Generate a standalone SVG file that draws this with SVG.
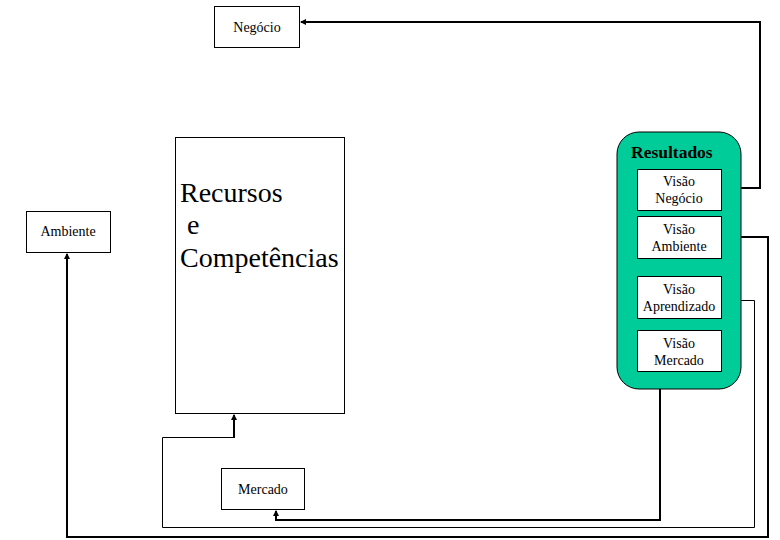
<svg xmlns="http://www.w3.org/2000/svg" width="780" height="540" viewBox="0 0 780 540">
<style>
.box{fill:#fff;stroke:#000;stroke-width:1}
.serif{font-family:"Liberation Serif","Times New Roman","DejaVu Serif",serif}
.t{font-size:14px;fill:#000;text-anchor:middle}
.big{font-size:28px;fill:#000}
.thick{fill:none;stroke:#000;stroke-width:2}
.thin{fill:none;stroke:#000;stroke-width:1}
</style>
<defs>
<marker id="ah" markerWidth="8" markerHeight="8" refX="5" refY="4" orient="auto" markerUnits="userSpaceOnUse">
<path d="M0,1 L6,4 L0,7 Z" fill="#000"/>
</marker>
</defs>
<rect width="780" height="540" fill="#fff"/>
<g id="connectors">
<polyline class="thick" points="721,188 760,188 760,22 301,22" marker-end="url(#ah)"/>
<polyline class="thick" points="721,237 768,237 768,537 67,537 67,254" marker-end="url(#ah)"/>
<polyline class="thin" points="721,300.5 754.5,300.5 754.5,527.5 162.5,527.5 162.5,437.5 234,437.5"/>
<polyline class="thick" points="234,438 234,415" marker-end="url(#ah)"/>
<polyline class="thick" points="660,371 660,520 276,520 276,511" marker-end="url(#ah)"/>
</g>
<g id="negocio"><rect class="box" x="214.5" y="6.5" width="85" height="41"/><text class="t serif" x="257" y="32">Negócio</text></g>
<g id="ambiente"><rect class="box" x="26.5" y="211.5" width="84" height="41"/><text class="t serif" x="68" y="236">Ambiente</text></g>
<g id="mercado"><rect class="box" x="221.5" y="468.5" width="83" height="41"/><text class="t serif" x="263" y="494">Mercado</text></g>
<g id="recursos"><rect class="box" x="175.5" y="137.5" width="169" height="276"/>
<text class="big serif" x="180" y="202">Recursos</text>
<text class="big serif" x="180" y="234" xml:space="preserve"> e</text>
<text class="big serif" x="180" y="267">Competências</text>
</g>
<g id="resultados">
<rect x="617" y="132" width="124" height="257" rx="22" fill="#00CC99" stroke="#000" stroke-width="1"/>
<text class="serif" x="631" y="158" font-size="17.5" font-weight="bold">Resultados</text>
</g>
<g id="visao-negocio"><rect class="box" x="637.5" y="169.5" width="84" height="41"/><text class="t serif" x="679" y="186">Visão</text><text class="t serif" x="679" y="203">Negócio</text></g>
<g id="visao-ambiente"><rect class="box" x="637.5" y="216.5" width="84" height="42"/><text class="t serif" x="679" y="234">Visão</text><text class="t serif" x="679" y="251">Ambiente</text></g>
<g id="visao-aprendizado"><rect class="box" x="637.5" y="276.5" width="84" height="42"/><text class="t serif" x="679" y="294">Visão</text><text class="t serif" x="679" y="311">Aprendizado</text></g>
<g id="visao-mercado"><rect class="box" x="637.5" y="330.5" width="84" height="41"/><text class="t serif" x="679" y="348">Visão</text><text class="t serif" x="679" y="365">Mercado</text></g>
</svg>
